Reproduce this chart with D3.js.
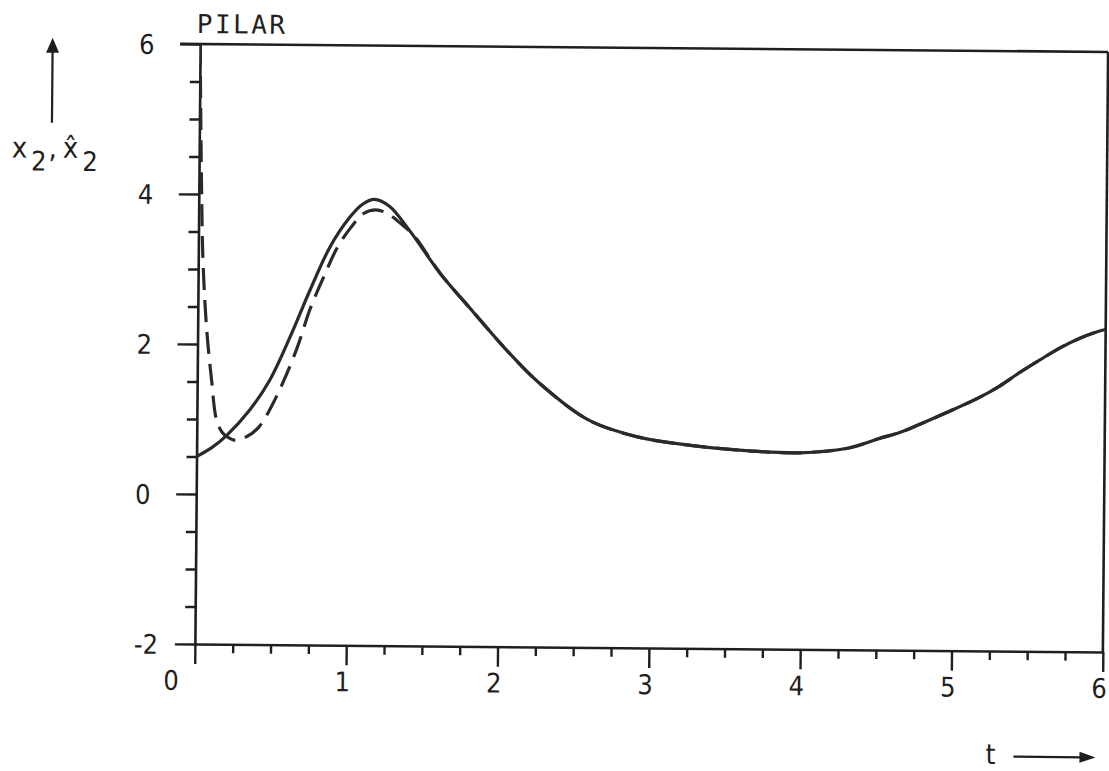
<!DOCTYPE html>
<html>
<head>
<meta charset="utf-8">
<script src="https://cdn.jsdelivr.net/npm/d3@7/dist/d3.min.js"></script>
<style>
  html, body { margin: 0; padding: 0; background: #ffffff; }
  svg { display: block; }
  text { fill: #1f1f1f; }
</style>
</head>
<body>
<svg id="chart" width="1109" height="771"></svg>
<script>
// State x2 (solid) and its estimate x2-hat (dashed) over time t
const tTrue = [0, 0.1, 0.2, 0.35, 0.48, 0.61, 0.74, 0.87, 1.0, 1.08, 1.16, 1.26, 1.39, 1.6, 1.82, 2.04, 2.26, 2.59, 2.92, 3.25, 3.65, 3.98, 4.31, 4.51, 4.64, 4.75, 4.95, 5.17, 5.3, 5.43, 5.57, 5.7, 5.83, 5.96, 6.0];
const x2True = [0.5, 0.62, 0.79, 1.13, 1.53, 2.1, 2.73, 3.31, 3.71, 3.88, 3.95, 3.86, 3.55, 2.97, 2.46, 1.96, 1.52, 1.03, 0.81, 0.71, 0.64, 0.62, 0.69, 0.82, 0.9, 0.99, 1.17, 1.38, 1.53, 1.71, 1.89, 2.05, 2.18, 2.28, 2.3];

const tEst = [0, 0.019, 0.032, 0.06, 0.095, 0.13, 0.17, 0.215, 0.26, 0.33, 0.41, 0.48, 0.565, 0.66, 0.74, 0.83, 0.92, 1.01, 1.09, 1.17, 1.24, 1.33, 1.42, 1.6, 1.82, 2.04, 2.26, 2.59, 2.92, 3.25, 3.65, 3.98, 4.31, 4.51, 4.64, 4.75, 4.95, 5.17, 5.3, 5.43, 5.57, 5.7, 5.83, 5.96, 6.0];
const x2Est = [6.0, 3.96, 3.08, 2.19, 1.52, 0.99, 0.82, 0.75, 0.72, 0.77, 0.9, 1.13, 1.49, 1.97, 2.47, 2.91, 3.31, 3.58, 3.76, 3.81, 3.77, 3.64, 3.48, 2.97, 2.46, 1.96, 1.52, 1.03, 0.81, 0.71, 0.64, 0.62, 0.69, 0.82, 0.9, 0.99, 1.17, 1.38, 1.53, 1.71, 1.89, 2.05, 2.18, 2.28, 2.3];

// Axis ticks and labels
const xMajor = [0, 1, 2, 3, 4, 5, 6];
const xMinorStep = 0.25;
const yMajor = [-2, 0, 2, 4, 6];
const yMinorStep = 0.5;
const title = "PILAR";

const ink = "#1f1f1f";
const svg = d3.select("#chart");

// The whole sheet sits slightly rotated
const root = svg.append("g").attr("transform", "rotate(0.5, 651.5, 348)");

const plotLeft = 197.5, plotRight = 1105.5, plotTop = 48, plotBottom = 648;
const x = d3.scaleLinear().domain([0, 6]).range([plotLeft, plotRight]);
const y = d3.scaleLinear().domain([-2, 6]).range([plotBottom, plotTop]);

const digitFont = "'DejaVu Sans Condensed', 'DejaVu Sans', sans-serif";

// Frame: top and right borders
root.append("line").attr("x1", x(0) - 20).attr("x2", x(6)).attr("y1", y(6)).attr("y2", y(6))
  .attr("stroke", ink).attr("stroke-width", 2.6);
root.append("line").attr("x1", x(6)).attr("x2", x(6)).attr("y1", y(6)).attr("y2", y(-2))
  .attr("stroke", ink).attr("stroke-width", 2.6);

// Y axis (ticks pointing left)
const yMinor = d3.range(-2, 6.001, yMinorStep).filter(v => !yMajor.includes(v));
const yAxis = d3.axisLeft(y).tickValues(yMajor).tickSize(20).tickSizeOuter(0).tickFormat(d3.format("d"));
const yAxisG = root.append("g").attr("transform", `translate(${x(0)},0)`).call(yAxis);
yAxisG.select(".domain").attr("stroke", ink).attr("stroke-width", 2.6);
yAxisG.selectAll(".tick line").attr("stroke", ink).attr("stroke-width", 2.4);
yAxisG.selectAll(".tick text")
  .attr("x", -61).attr("text-anchor", "start").attr("dy", "0.36em")
  .style("font-family", digitFont).style("font-size", "27px").attr("fill", ink)
  .text(d => d < 0 ? "-" + Math.abs(d) : String(d));
const yMinorG = root.append("g").attr("transform", `translate(${x(0)},0)`)
  .call(d3.axisLeft(y).tickValues(yMinor).tickSize(10).tickSizeOuter(0).tickFormat(""));
yMinorG.select(".domain").remove();
yMinorG.selectAll(".tick line").attr("stroke", ink).attr("stroke-width", 2.4);

// X axis (ticks pointing down)
const xMinor = d3.range(0, 6.001, xMinorStep).filter(v => !xMajor.includes(v));
const xAxis = d3.axisBottom(x).tickValues(xMajor).tickSize(20).tickSizeOuter(0).tickFormat(d3.format("d"));
const xAxisG = root.append("g").attr("transform", `translate(0,${y(-2)})`).call(xAxis);
xAxisG.select(".domain").attr("stroke", ink).attr("stroke-width", 2.6);
xAxisG.selectAll(".tick line").attr("stroke", ink).attr("stroke-width", 2.4);
xAxisG.selectAll(".tick text")
  .attr("y", 46).attr("dy", 0)
  .attr("x", d => d === 0 ? -24 : -4)
  .style("font-family", digitFont).style("font-size", "27px").attr("fill", ink);
const xMinorG = root.append("g").attr("transform", `translate(0,${y(-2)})`)
  .call(d3.axisBottom(x).tickValues(xMinor).tickSize(9).tickSizeOuter(0).tickFormat(""));
xMinorG.select(".domain").remove();
xMinorG.selectAll(".tick line").attr("stroke", ink).attr("stroke-width", 2.4);

// Curves, clipped to the plot area
root.append("clipPath").attr("id", "plotClip")
  .append("rect").attr("x", plotLeft).attr("y", plotTop)
  .attr("width", plotRight - plotLeft).attr("height", plotBottom - plotTop);

const line = d3.line().x(d => x(d[0])).y(d => y(d[1])).curve(d3.curveCatmullRom.alpha(0.5));
const plot = root.append("g").attr("clip-path", "url(#plotClip)");

plot.append("path")
  .datum(d3.zip(tEst, x2Est))
  .attr("d", line).attr("fill", "none")
  .attr("stroke", "#2a2a2a").attr("stroke-width", 3.2)
  .attr("stroke-dasharray", "22,10");

plot.append("path")
  .datum(d3.zip(tTrue, x2True))
  .attr("d", line).attr("fill", "none")
  .attr("stroke", "#2a2a2a").attr("stroke-width", 3.2)
  .attr("stroke-linejoin", "round");

// Title
root.append("text").attr("x", 194).attr("y", 37)
  .style("font-family", "'DejaVu Sans Mono', monospace").style("font-size", "26px")
  .style("letter-spacing", "2.5px").text(title);

// Y label with upward arrow
const labelFont = "'DejaVu Sans Condensed', 'DejaVu Sans', sans-serif";
const yl = root.append("text").attr("x", 10).attr("y", 163)
  .style("font-family", labelFont).style("font-size", "29px");
yl.append("tspan").text("x");
yl.append("tspan").attr("dx", 4).attr("dy", 13).style("font-size", "27px").text("2");
yl.append("tspan").attr("dx", 2).attr("dy", -13).text(",");
yl.append("tspan").attr("dx", 6).text("x\u0302");
yl.append("tspan").attr("dx", 4).attr("dy", 13).style("font-size", "27px").text("2");

root.append("line").attr("x1", 50).attr("x2", 50).attr("y1", 128).attr("y2", 55)
  .attr("stroke", ink).attr("stroke-width", 2.2);
root.append("path").attr("d", "M50,43 L56.5,58 L43.5,58 Z").attr("fill", ink);

// t label with rightward arrow
root.append("text").attr("x", 989).attr("y", 761)
  .style("font-family", labelFont).style("font-size", "28px").text("t");
root.append("line").attr("x1", 1017).attr("x2", 1086).attr("y1", 753.5).attr("y2", 753.5)
  .attr("stroke", ink).attr("stroke-width", 2.2);
root.append("path").attr("d", "M1099,753.5 L1083,748 L1083,759 Z").attr("fill", ink);
</script>
</body>
</html>
